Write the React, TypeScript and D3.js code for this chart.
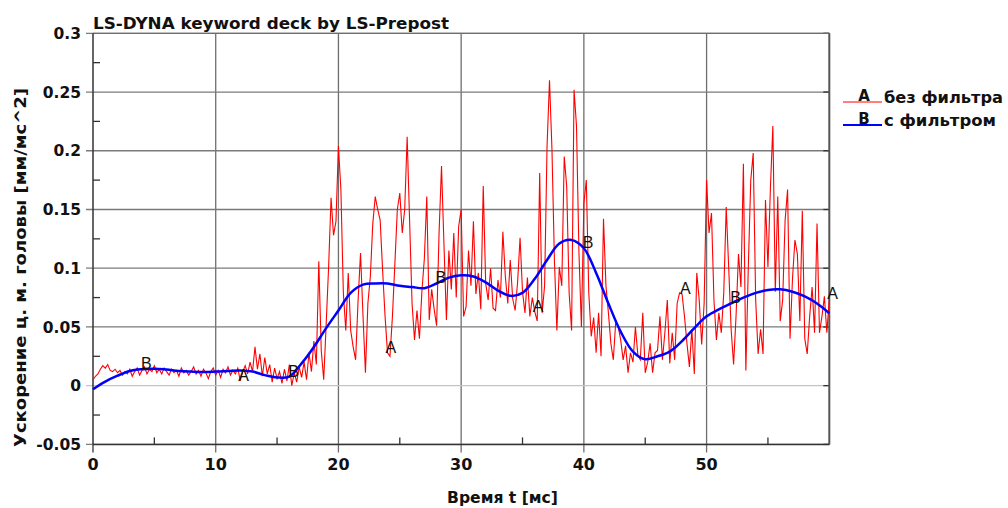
import React from "react";
import * as d3 from "d3";

// Head centre-of-mass acceleration, sampled every 0.2 ms (values in 1e-3 mm/ms^2)
const RAW_STEP = 0.2;
const rawAccel = [
  5, 8, 10, 14, 17, 15, 18, 13, 12, 14,
  11, 13, 9, 12, 10, 14, 8, 12, 15, 9,
  13, 16, 10, 14, 12, 17, 11, 14, 10, 15,
  12, 9, 14, 11, 13, 8, 15, 11, 13, 9,
  12, 16, 10, 13, 8, 14, 11, 6, 12, 15,
  9, 13, 7, 14, 11, 16, 9, 13, 10, 15,
  4, 12, 17, 10, 20, 12, 33, 14, 27, 8,
  24, 10, 18, 3, 15, 6, 12, 2, 14, 4,
  18, 0, 11, 3, 16, 7, 20, 5, 28, 12,
  38, 18, 106, 30, 5, 52, 101, 160, 128, 140,
  204, 167, 79, 47, 96, 47, 33, 22, 72, 113,
  60, 11, 70, 93, 138, 161, 150, 141, 98, 59,
  28, 25, 59, 104, 150, 164, 130, 150, 212, 140,
  70, 39, 64, 40, 80, 108, 161, 56, 82, 65,
  51, 130, 187, 120, 56, 115, 82, 130, 75, 136,
  150, 59, 67, 115, 85, 140, 78, 96, 65, 170,
  87, 73, 100, 66, 64, 90, 75, 131, 93, 70,
  107, 74, 64, 88, 126, 80, 62, 92, 59, 75,
  63, 55, 181, 62, 85, 204, 260, 201, 107, 47,
  101, 85, 195, 170, 79, 47, 252, 221, 113, 50,
  155, 175, 79, 42, 58, 28, 62, 25, 142, 85,
  62, 36, 22, 55, 50, 39, 22, 34, 11, 28,
  20, 50, 26, 22, 62, 11, 20, 36, 11, 28,
  30, 59, 22, 45, 73, 19, 45, 22, 70, 79,
  78, 59, 36, 16, 48, 10, 96, 73, 35, 70,
  175, 130, 147, 73, 39, 62, 45, 79, 152, 101,
  48, 18, 59, 112, 84, 189, 13, 101, 175, 198,
  73, 27, 48, 27, 158, 101, 168, 221, 80, 161,
  55, 73, 141, 167, 40, 91, 124, 112, 55, 149,
  40, 27, 59, 84, 45, 138, 45, 59, 76, 45,
  74,
];

// Filtered signal, sampled every 1 ms (values in 1e-3 mm/ms^2)
const FILT_STEP = 1;
const filteredAccel = [
  -3, 3.5, 8.5, 12.5, 14, 14.5, 13.7, 12.5, 12, 11.7,
  12, 12.5, 13, 12, 9, 7, 7.7, 19, 33, 49,
  64, 79, 86, 87, 87, 85, 84, 83, 87, 92,
  94, 93, 88, 81, 76.5, 79, 91, 107, 121, 124,
  117, 96, 70, 46, 29, 22.5, 25, 29, 38, 49,
  59, 65, 70, 75, 79, 81.5, 82, 80, 76, 70,
  61.7,
];

// Curve marker letters (times in ms)
const markersA = [12, 24, 36, 48, 60];
const markersB = [4, 16, 28, 40, 52];

const xMajorTicks = [0, 10, 20, 30, 40, 50];
const xMinorTicks = [5, 15, 25, 35, 45, 55];
const yMajorTicks = [-0.05, 0, 0.05, 0.1, 0.15, 0.2, 0.25, 0.3];
const yMinorTicks = [-0.025, 0.025, 0.075, 0.125, 0.175, 0.225, 0.275];

const title = "LS-DYNA keyword deck by LS-Prepost";
const xTitle = "Время t [мс]";
const yTitle = "Ускорение ц. м. головы [мм/мс^2]";
const legendA = "без фильтра";
const legendB = "с фильтром";

type Pt = [number, number];
const toPoints = (vals: number[], step: number): Pt[] =>
  vals.map((v, i) => [i * step, v / 1000]);

const rawPts = toPoints(rawAccel, RAW_STEP);
const filtPts = toPoints(filteredAccel, FILT_STEP);

const FONT = "'DejaVu Sans', Verdana, sans-serif";
const LETTER_FONT = "'Liberation Sans', Arial, sans-serif";

export default function App() {
  const W = 1008;
  const H = 508;
  const left = 93;
  const right = 829.3;
  const top = 33.3;
  const bottom = 444.4;

  const x = d3.scaleLinear().domain([0, 60]).range([left, right]);
  const y = d3.scaleLinear().domain([-0.05, 0.3]).range([bottom, top]);

  const rawLine = d3
    .line<Pt>()
    .x((d) => x(d[0]))
    .y((d) => y(d[1]));
  const filtLine = d3
    .line<Pt>()
    .x((d) => x(d[0]))
    .y((d) => y(d[1]))
    .curve(d3.curveCatmullRom.alpha(0.5));

  const valueAt = (pts: Pt[], t: number, step: number) =>
    pts[Math.round(t / step)][1];

  const fmtY = (v: number) => (Math.abs(v) < 1e-9 ? "0" : String(+v.toFixed(3)));

  return (
    <svg
      width={W}
      height={H}
      viewBox={`0 0 ${W} ${H}`}
      style={{ position: "absolute", left: 0, top: 0, background: "#fff" }}
      fontFamily={FONT}
    >
      <rect x={0} y={0} width={W} height={H} fill="#fff" />

      {/* grid */}
      {xMajorTicks
        .filter((t) => t > 0)
        .map((t) => (
          <line
            key={"gx" + t}
            x1={x(t)}
            x2={x(t)}
            y1={top}
            y2={bottom + 8}
            stroke="#6e6e6e"
            strokeWidth={1.3}
          />
        ))}
      {yMajorTicks.map((v) => (
        <line
          key={"gy" + v}
          x1={left - 7}
          x2={right}
          y1={y(v)}
          y2={y(v)}
          stroke={v === 0 ? "#c4c4c4" : "#7a7a7a"}
          strokeWidth={1.3}
        />
      ))}

      {/* minor ticks */}
      {xMinorTicks.map((t) => (
        <line
          key={"mx" + t}
          x1={x(t)}
          x2={x(t)}
          y1={bottom}
          y2={bottom - 7}
          stroke="#333"
          strokeWidth={1.3}
        />
      ))}
      <line x1={left} x2={left} y1={bottom} y2={bottom + 8} stroke="#333" strokeWidth={1.3} />
      {yMinorTicks.map((v) => (
        <line
          key={"my" + v}
          x1={left}
          x2={left + 7}
          y1={y(v)}
          y2={y(v)}
          stroke="#333"
          strokeWidth={1.3}
        />
      ))}
      {yMajorTicks.map((v) => (
        <line
          key={"ry" + v}
          x1={right - 6}
          x2={right}
          y1={y(v)}
          y2={y(v)}
          stroke="#333"
          strokeWidth={1.3}
        />
      ))}

      {/* frame */}
      <line x1={left} x2={right} y1={top} y2={top} stroke="#6e6e6e" strokeWidth={1.3} />
      <line x1={right} x2={right} y1={top} y2={bottom} stroke="#555" strokeWidth={2} />
      <line x1={left} x2={left} y1={top} y2={bottom} stroke="#333" strokeWidth={1.5} />
      <line x1={left} x2={right} y1={bottom} y2={bottom} stroke="#333" strokeWidth={1.5} />

      {/* series */}
      <path d={rawLine(rawPts) ?? ""} fill="none" stroke="#ff0000" strokeWidth={1.1} />
      <path d={filtLine(filtPts) ?? ""} fill="none" stroke="#0000ff" strokeWidth={2.5} />

      {/* curve markers */}
      {markersA.map((t) => (
        <text
          key={"A" + t}
          x={x(t) - 2}
          y={y(valueAt(rawPts, t, RAW_STEP))}
          fontFamily={LETTER_FONT}
          fontSize={16}
          fill="#111"
        >
          A
        </text>
      ))}
      {markersB.map((t) => (
        <text
          key={"B" + t}
          x={x(t) - 1}
          y={y(valueAt(filtPts, t, FILT_STEP))}
          fontFamily={LETTER_FONT}
          fontSize={16}
          fill="#111"
        >
          B
        </text>
      ))}

      {/* tick labels */}
      {yMajorTicks.map((v) => (
        <text
          key={"ty" + v}
          x={81}
          y={y(v)}
          dy="0.36em"
          textAnchor="end"
          fontSize={15.5}
          fontWeight="bold"
          fill="#111"
        >
          {fmtY(v)}
        </text>
      ))}
      {xMajorTicks.map((t) => (
        <text
          key={"tx" + t}
          x={x(t)}
          y={470}
          textAnchor="middle"
          fontSize={16}
          fontWeight="bold"
          fill="#111"
        >
          {t}
        </text>
      ))}

      {/* titles */}
      <text
        x={93}
        y={29}
        fontSize={16}
        fontWeight="bold"
        fill="#111"
        textLength={356}
        lengthAdjust="spacingAndGlyphs"
      >
        {title}
      </text>
      <text
        x={447}
        y={503}
        fontSize={16}
        fontWeight="bold"
        fill="#111"
        textLength={111}
        lengthAdjust="spacingAndGlyphs"
      >
        {xTitle}
      </text>
      <text
        transform={`translate(26, 447) rotate(-90)`}
        fontSize={16}
        fontWeight="bold"
        fill="#111"
        textLength={359}
        lengthAdjust="spacingAndGlyphs"
      >
        {yTitle}
      </text>

      {/* legend */}
      <line x1={843} x2={882} y1={102} y2={102} stroke="#ff0000" strokeWidth={1} />
      <text x={864} y={101} textAnchor="middle" fontSize={15} fontWeight="bold" fill="#111">
        A
      </text>
      <text
        x={884}
        y={103}
        fontSize={16}
        fontWeight="bold"
        fill="#111"
        textLength={119}
        lengthAdjust="spacingAndGlyphs"
      >
        {legendA}
      </text>
      <line x1={843} x2={882} y1={125} y2={125} stroke="#0000ff" strokeWidth={2} />
      <text x={864} y={124} textAnchor="middle" fontSize={15} fontWeight="bold" fill="#111">
        B
      </text>
      <text
        x={884}
        y={126}
        fontSize={16}
        fontWeight="bold"
        fill="#111"
        textLength={112}
        lengthAdjust="spacingAndGlyphs"
      >
        {legendB}
      </text>
    </svg>
  );
}
